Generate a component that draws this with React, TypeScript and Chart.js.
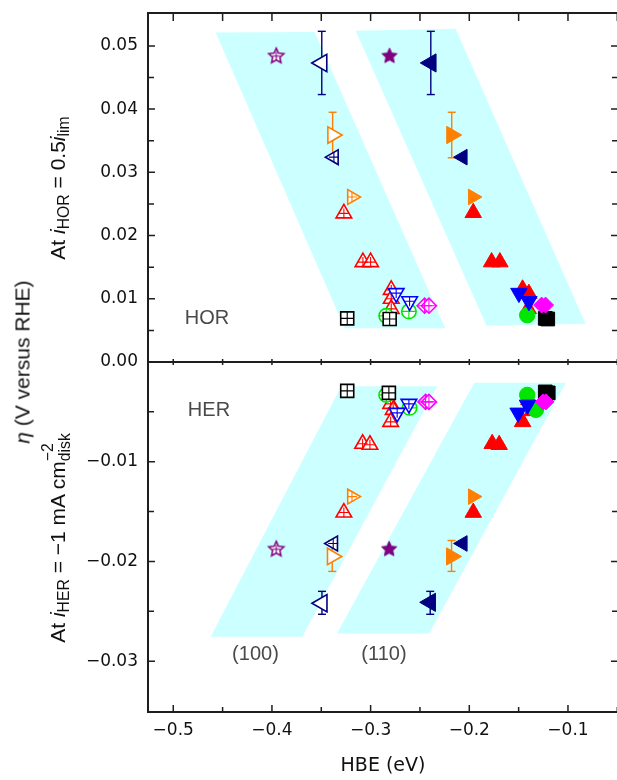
import React, { useEffect, useRef } from 'react';
import { Chart, registerables } from 'chart.js';

Chart.register(...registerables);

type Pt = [number, number];
type Err = [number, number, number]; // x, low, high

// ---------- axes ----------
const X_MIN = -0.5256;
const X_MAX = -0.0493;
const HOR_MIN = 0;
const HOR_MAX = 0.0552;
const HER_MIN = -0.0351;
const HER_MAX = 0;
const xMajorTicks = [-0.5, -0.4, -0.3, -0.2, -0.1];
const xMinorTicks = [-0.45, -0.35, -0.25, -0.15, -0.05];
const horMajorTicks = [0, 0.01, 0.02, 0.03, 0.04, 0.05];
const horMinorTicks = [0.005, 0.015, 0.025, 0.035, 0.045];
const herMajorTicks = [-0.01, -0.02, -0.03];
const herMinorTicks = [-0.005, -0.015, -0.025];

// ---------- shaded facet bands ----------
const horBand100: Pt[] = [[-0.457, 0.0521], [-0.3567, 0.0522], [-0.2244, 0.00533], [-0.3263, 0.00533]];
const horBand110: Pt[] = [[-0.3152, 0.0524], [-0.2139, 0.0527], [-0.0822, 0.00606], [-0.1825, 0.00574]];
const herBand100: Pt[] = [[-0.3298, -0.00243], [-0.2325, -0.00243], [-0.3693, -0.02756], [-0.4621, -0.02756]];
const herBand110: Pt[] = [[-0.195, -0.00209], [-0.1021, -0.00209], [-0.2406, -0.02722], [-0.3341, -0.02722]];

// ---------- HOR, Pt(100) (open symbols) ----------
const hor100Star: Pt[] = [[-0.3956, 0.0485]];
const hor100NavyErr: Err[] = [[-0.3495, 0.0423, 0.0523]];
const hor100NavyBig: Pt[] = [[-0.3495, 0.0473]];
const hor100NavySmall: Pt[] = [[-0.3372, 0.0324]];
const hor100OrangeErr: Err[] = [[-0.3385, 0.0323, 0.0395]];
const hor100OrangeBig: Pt[] = [[-0.3385, 0.0359]];
const hor100Orange: Pt[] = [[-0.3189, 0.0261]];
const hor100Red: Pt[] = [[-0.3271, 0.0235], [-0.3078, 0.0158], [-0.3, 0.0158], [-0.2791, 0.0114], [-0.2791, 0.01], [-0.2791, 0.0084]];
const hor100Blue: Pt[] = [[-0.2741, 0.0109], [-0.2605, 0.0096]];
const hor100Green: Pt[] = [[-0.2842, 0.0073], [-0.2612, 0.008]];
const hor100Black: Pt[] = [[-0.3237, 0.0069], [-0.2807, 0.0068]];
const hor100Magenta: Pt[] = [[-0.2453, 0.0089], [-0.2409, 0.0089]];

// ---------- HOR, Pt(110) (filled symbols) ----------
const hor110Star: Pt[] = [[-0.2808, 0.0485]];
const hor110NavyErr: Err[] = [[-0.239, 0.0423, 0.0523]];
const hor110NavyBig: Pt[] = [[-0.239, 0.0473]];
const hor110NavySmall: Pt[] = [[-0.2068, 0.0324]];
const hor110OrangeErr: Err[] = [[-0.2178, 0.0323, 0.0395]];
const hor110OrangeBig: Pt[] = [[-0.2178, 0.0359]];
const hor110Orange: Pt[] = [[-0.1963, 0.0261]];
const hor110Red: Pt[] = [[-0.196, 0.0236], [-0.1774, 0.0158], [-0.169, 0.0158], [-0.146, 0.0115], [-0.1396, 0.0108], [-0.1403, 0.0084]];
const hor110Blue: Pt[] = [[-0.1497, 0.0109], [-0.1396, 0.0096]];
const hor110Green: Pt[] = [[-0.1413, 0.0074]];
const hor110Black: Pt[] = [[-0.123, 0.0069], [-0.1205, 0.0068]];
const hor110Magenta: Pt[] = [[-0.1267, 0.009], [-0.1227, 0.009]];

// ---------- HER, Pt(100) (open symbols) ----------
const her100Star: Pt[] = [[-0.3956, -0.0187]];
const her100NavyErr: Err[] = [[-0.3493, -0.0253, -0.023]];
const her100NavyBig: Pt[] = [[-0.3493, -0.0242]];
const her100NavySmall: Pt[] = [[-0.3379, -0.0182]];
const her100OrangeErr: Err[] = [[-0.3389, -0.021, -0.0179]];
const her100OrangeBig: Pt[] = [[-0.3389, -0.0195]];
const her100Orange: Pt[] = [[-0.3189, -0.0135]];
const her100Red: Pt[] = [[-0.2797, -0.0042], [-0.2771, -0.0048], [-0.2797, -0.006], [-0.3081, -0.0082], [-0.3007, -0.0083], [-0.3271, -0.0151]];
const her100Blue: Pt[] = [[-0.2731, -0.0051], [-0.2612, -0.0042]];
const her100Green: Pt[] = [[-0.2842, -0.0033], [-0.2605, -0.0046]];
const her100Black: Pt[] = [[-0.3237, -0.0029], [-0.2815, -0.0031]];
const her100Magenta: Pt[] = [[-0.2443, -0.004], [-0.2409, -0.004]];

// ---------- HER, Pt(110) (filled symbols) ----------
const her110Star: Pt[] = [[-0.2812, -0.0187]];
const her110NavyErr: Err[] = [[-0.2396, -0.0253, -0.023]];
const her110NavyBig: Pt[] = [[-0.2396, -0.0241]];
const her110NavySmall: Pt[] = [[-0.2068, -0.0182]];
const her110OrangeErr: Err[] = [[-0.218, -0.021, -0.0179]];
const her110OrangeBig: Pt[] = [[-0.218, -0.0195]];
const her110Orange: Pt[] = [[-0.1963, -0.0135]];
const her110Red: Pt[] = [[-0.1396, -0.0038], [-0.1363, -0.0049], [-0.146, -0.006], [-0.1768, -0.0082], [-0.1697, -0.0083], [-0.196, -0.0151]];
const her110Blue: Pt[] = [[-0.1505, -0.0051], [-0.141, -0.0043]];
const her110Green: Pt[] = [[-0.1413, -0.0033], [-0.1325, -0.0048]];
const her110Black: Pt[] = [[-0.123, -0.003], [-0.12, -0.0031]];
const her110Magenta: Pt[] = [[-0.1251, -0.004], [-0.1224, -0.004]];

// ---------- annotations ----------
type Note = { text: string; x: number; y: number };
const horNotes: Note[] = [{ text: 'HOR', x: -0.4659, y: 0.00688 }];
const herNotes: Note[] = [
  { text: 'HER', x: -0.4638, y: -0.00487 },
  { text: '(100)', x: -0.4167, y: -0.0293 },
  { text: '(110)', x: -0.2865, y: -0.0293 },
];

const PURPLE = '#800080';
const NAVY = '#000080';
const ORANGE = '#ff8000';
const RED = '#ff0000';
const BLUE = '#0000ff';
const GREEN = '#00e600';
const BLACK = '#000000';
const MAGENTA = '#ff00ff';
const CYAN = '#ccffff';

const xy = (arr: Pt[]) => arr.map(([x, y]) => ({ x, y }));
const fmt = (v: number, d: number) => (v < -1e-9 ? '\u2212' : '') + Math.abs(v).toFixed(d);

function starImage(color: string, filled: boolean): HTMLCanvasElement {
  const size = 22;
  const c = document.createElement('canvas');
  c.width = size;
  c.height = size;
  const g = c.getContext('2d')!;
  const R = 8;
  const r = 3.8;
  const cx = size / 2;
  const cy = size / 2 + 0.8;
  g.beginPath();
  for (let i = 0; i < 10; i++) {
    const a = -Math.PI / 2 + (i * Math.PI) / 5;
    const rr = i % 2 === 0 ? R : r;
    const px = cx + rr * Math.cos(a);
    const py = cy + rr * Math.sin(a);
    if (i === 0) g.moveTo(px, py);
    else g.lineTo(px, py);
  }
  g.closePath();
  g.fillStyle = filled ? color : '#ffffff';
  g.fill();
  g.strokeStyle = color;
  g.lineWidth = filled ? 1 : 1.5;
  g.stroke();
  if (!filled) {
    g.beginPath();
    g.moveTo(cx - 3.8, cy);
    g.lineTo(cx + 3.8, cy);
    g.moveTo(cx, cy - 4.5);
    g.lineTo(cx, cy + 4.5);
    g.lineWidth = 1.1;
    g.stroke();
  }
  return c;
}

interface Series {
  star: Pt[]; navyErr: Err[]; navyBig: Pt[]; navySmall: Pt[]; orangeErr: Err[]; orangeBig: Pt[];
  orange: Pt[]; red: Pt[]; blue: Pt[]; green: Pt[]; black: Pt[]; magenta: Pt[];
}

function seriesDatasets(s: Series, filled: boolean): any[] {
  const out: any[] = [];
  const add = (data: Pt[], color: string, shape: string, r: number, rot: number, hatchR: number) => {
    if (!filled && hatchR > 0) {
      out.push({
        data: xy(data), pointStyle: 'cross', pointRadius: hatchR, pointRotation: 0,
        pointBorderColor: color, pointBackgroundColor: color, pointBorderWidth: 1.1, order: 10,
      });
    }
    out.push({
      data: xy(data), pointStyle: shape, pointRadius: filled ? r + 0.5 : r, pointRotation: rot,
      pointBackgroundColor: filled ? color : '#ffffff', pointBorderColor: color,
      pointBorderWidth: filled ? 1 : 1.6, order: 10,
    });
  };
  add(s.magenta, MAGENTA, 'rectRot', 7.5, 0, 7.5);
  add(s.black, BLACK, 'rect', 9.2, 0, 6.5);
  add(s.blue, BLUE, 'triangle', 9, 180, 5);
  add(s.green, GREEN, 'circle', 7.2, 0, 7.2);
  add(s.red, RED, 'triangle', 9, 0, 5);
  add(s.orange, ORANGE, 'triangle', 8.5, 90, 5);
  add(s.orangeBig, ORANGE, 'triangle', 9.5, 90, 0);
  add(s.navySmall, NAVY, 'triangle', 8.5, -90, 5);
  add(s.navyBig, NAVY, 'triangle', 10, -90, 0);
  out.push({ data: xy(s.star), pointStyle: starImage(PURPLE, filled), pointRadius: 8, order: 10 });
  const bars: [Err[], string][] = [[s.navyErr, NAVY], [s.orangeErr, ORANGE]];
  for (const [errs, color] of bars) {
    for (const [x, lo, hi] of errs) {
      out.push({
        data: [{ x, y: lo }, { x, y: hi }], showLine: true, borderColor: color, borderWidth: 1.4,
        pointStyle: 'line', pointRadius: 4, pointBorderColor: color, pointBorderWidth: 1.4, order: 20,
      });
    }
  }
  return out;
}

function bandDataset(poly: Pt[]) {
  const pts = xy([...poly, poly[0]]);
  return {
    data: pts, showLine: true, fill: 'shape', backgroundColor: CYAN, borderColor: 'transparent',
    borderWidth: 0, pointRadius: 0, tension: 0, order: 30,
  };
}

function framePlugin(id: string, o: { yMajor: number[]; yMinor: number[]; topLen: number; botMajor: number; botMinor: number; notes: Note[] }) {
  return {
    id,
    afterDraw(chart: any) {
      const { ctx, chartArea: a, scales } = chart;
      const xs = scales.x;
      const ys = scales.y;
      ctx.save();
      ctx.fillStyle = '#4a4a4a';
      ctx.font = '20px "Liberation Sans", Arial, sans-serif';
      ctx.textAlign = 'center';
      ctx.textBaseline = 'middle';
      for (const n of o.notes) ctx.fillText(n.text, xs.getPixelForValue(n.x), ys.getPixelForValue(n.y));
      ctx.strokeStyle = '#1e1e1e';
      ctx.lineWidth = 1.5;
      ctx.beginPath();
      const xt: [number, boolean][] = [...xMajorTicks.map((v) => [v, true] as [number, boolean]), ...xMinorTicks.map((v) => [v, false] as [number, boolean])];
      for (const [v, major] of xt) {
        const px = xs.getPixelForValue(v);
        ctx.moveTo(px, a.top);
        ctx.lineTo(px, a.top + o.topLen);
        ctx.moveTo(px, a.bottom);
        ctx.lineTo(px, a.bottom - (major ? o.botMajor : o.botMinor));
      }
      const yt: [number, number][] = [...o.yMajor.map((v) => [v, 7] as [number, number]), ...o.yMinor.map((v) => [v, 6] as [number, number])];
      for (const [v, len] of yt) {
        const py = ys.getPixelForValue(v);
        if (py <= a.top + 1 || py >= a.bottom - 1) continue;
        ctx.moveTo(a.left, py);
        ctx.lineTo(a.left + len, py);
        ctx.moveTo(a.right, py);
        ctx.lineTo(a.right - len, py);
      }
      ctx.stroke();
      ctx.lineWidth = 2;
      ctx.strokeRect(a.left, a.top, a.right - a.left, a.bottom - a.top);
      ctx.restore();
    },
  };
}

const tickFont = { family: '"DejaVu Sans", "Liberation Sans", sans-serif', size: 17 };

export default function App() {
  const topRef = useRef<HTMLCanvasElement>(null);
  const botRef = useRef<HTMLCanvasElement>(null);

  useEffect(() => {
    const horSeries: Series[] = [
      { star: hor100Star, navyErr: hor100NavyErr, navyBig: hor100NavyBig, navySmall: hor100NavySmall, orangeErr: hor100OrangeErr, orangeBig: hor100OrangeBig, orange: hor100Orange, red: hor100Red, blue: hor100Blue, green: hor100Green, black: hor100Black, magenta: hor100Magenta },
      { star: hor110Star, navyErr: hor110NavyErr, navyBig: hor110NavyBig, navySmall: hor110NavySmall, orangeErr: hor110OrangeErr, orangeBig: hor110OrangeBig, orange: hor110Orange, red: hor110Red, blue: hor110Blue, green: hor110Green, black: hor110Black, magenta: hor110Magenta },
    ];
    const herSeries: Series[] = [
      { star: her100Star, navyErr: her100NavyErr, navyBig: her100NavyBig, navySmall: her100NavySmall, orangeErr: her100OrangeErr, orangeBig: her100OrangeBig, orange: her100Orange, red: her100Red, blue: her100Blue, green: her100Green, black: her100Black, magenta: her100Magenta },
      { star: her110Star, navyErr: her110NavyErr, navyBig: her110NavyBig, navySmall: her110NavySmall, orangeErr: her110OrangeErr, orangeBig: her110OrangeBig, orange: her110Orange, red: her110Red, blue: her110Blue, green: her110Green, black: her110Black, magenta: her110Magenta },
    ];

    const yTickOpts = {
      autoSkip: false, padding: 10, color: '#111111', font: tickFont,
      callback: (v: any) => fmt(Number(v), 2),
    };

    const top = new Chart(topRef.current!, {
      type: 'scatter',
      data: {
        datasets: [
          ...seriesDatasets(horSeries[1], true),
          ...seriesDatasets(horSeries[0], false),
          bandDataset(horBand100),
          bandDataset(horBand110),
        ],
      },
      options: {
        responsive: false,
        animation: false,
        events: [],
        layout: { padding: { top: 13, right: 12, bottom: 18, left: 0 } },
        plugins: { legend: { display: false }, tooltip: { enabled: false } },
        scales: {
          x: { type: 'linear', min: X_MIN, max: X_MAX, display: false },
          y: {
            type: 'linear', min: HOR_MIN, max: HOR_MAX,
            grid: { display: false, drawTicks: false }, border: { display: false },
            ticks: yTickOpts,
            afterBuildTicks: (s: any) => { s.ticks = horMajorTicks.map((value) => ({ value })); },
            afterFit: (s: any) => { s.width = 148; s.paddingTop = 0; s.paddingBottom = 0; },
          },
        },
      } as any,
      plugins: [framePlugin('frameTop', { yMajor: horMajorTicks, yMinor: horMinorTicks, topLen: 8, botMajor: 3, botMinor: 3, notes: horNotes })],
    });

    const bot = new Chart(botRef.current!, {
      type: 'scatter',
      data: {
        datasets: [
          ...seriesDatasets(herSeries[1], true),
          ...seriesDatasets(herSeries[0], false),
          bandDataset(herBand100),
          bandDataset(herBand110),
        ],
      },
      options: {
        responsive: false,
        animation: false,
        events: [],
        layout: { padding: { top: 12, right: 12, bottom: 0, left: 0 } },
        plugins: { legend: { display: false }, tooltip: { enabled: false } },
        scales: {
          x: {
            type: 'linear', min: X_MIN, max: X_MAX, position: 'bottom',
            grid: { display: false, drawTicks: false }, border: { display: false },
            ticks: { autoSkip: false, padding: 8, color: '#111111', font: tickFont, maxRotation: 0, callback: (v: any) => fmt(Number(v), 1) },
            title: { display: true, text: 'HBE (eV)', color: '#111111', font: { family: '"DejaVu Sans", "Liberation Sans", sans-serif', size: 19 }, padding: { top: 0, bottom: 3 } },
            afterBuildTicks: (s: any) => { s.ticks = xMajorTicks.map((value) => ({ value })); },
            afterFit: (s: any) => { s.height = 68; s.paddingLeft = 0; s.paddingRight = 0; },
          },
          y: {
            type: 'linear', min: HER_MIN, max: HER_MAX,
            grid: { display: false, drawTicks: false }, border: { display: false },
            ticks: yTickOpts,
            afterBuildTicks: (s: any) => { s.ticks = herMajorTicks.map((value) => ({ value })); },
            afterFit: (s: any) => { s.width = 148; s.paddingTop = 0; s.paddingBottom = 0; },
          },
        },
      } as any,
      plugins: [framePlugin('frameBot', { yMajor: herMajorTicks, yMinor: herMinorTicks, topLen: 3, botMajor: 7, botMinor: 5, notes: herNotes })],
    });

    return () => {
      top.destroy();
      bot.destroy();
    };
  }, []);

  const rot = (x: number, y: number, size: number): React.CSSProperties => ({
    position: 'absolute', left: x, top: y, transform: 'translate(-50%, -50%) rotate(-90deg)',
    whiteSpace: 'nowrap', fontFamily: '"Liberation Sans", Arial, sans-serif', fontSize: size,
    color: '#111111', lineHeight: 1,
  });
  const sub: React.CSSProperties = { fontSize: '0.75em', verticalAlign: '-0.3em', lineHeight: 0 };

  return (
    <div style={{ position: 'fixed', left: 0, top: 0, width: 617, height: 780, overflow: 'hidden', background: '#ffffff' }}>
      <canvas ref={topRef} width={630} height={380} style={{ position: 'absolute', left: 0, top: 0, width: 630, height: 380 }} />
      <canvas ref={botRef} width={630} height={430} style={{ position: 'absolute', left: 0, top: 350, width: 630, height: 430 }} />
      <div style={rot(22, 362, 21)}>
        <i>η</i> (V versus RHE)
      </div>
      <div style={rot(57, 188, 21)}>
        At <i>i</i><span style={sub}>HOR</span> = 0.5<i>i</i><span style={sub}>lim</span>
      </div>
      <div style={rot(57, 538, 21)}>
        At <i>i</i><span style={sub}>HER</span> = −1 mA cm
        <span style={{ display: 'inline-block', verticalAlign: '-0.35em', fontSize: '0.75em', lineHeight: 1.05, textAlign: 'left' }}>
          <span style={{ display: 'block' }}>−2</span>
          <span style={{ display: 'block' }}>disk</span>
        </span>
      </div>
    </div>
  );
}
